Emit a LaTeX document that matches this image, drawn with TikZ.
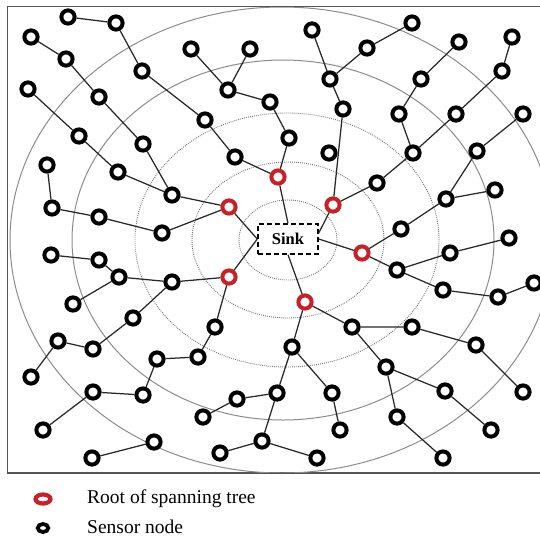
\documentclass[tikz,border=0pt]{standalone}
\usepackage{fontspec}
\setmainfont{Liberation Serif}
\usetikzlibrary{shapes.geometric}
\definecolor{rootred}{RGB}{200,32,38}
\definecolor{linkgray}{RGB}{40,40,40}
\definecolor{ringgray}{RGB}{140,140,140}
\definecolor{dotgray}{RGB}{120,120,120}
\definecolor{framegray}{RGB}{85,85,85}
\begin{document}
\begin{tikzpicture}[x=1pt,y=-1pt,
  sensor/.style={circle,draw=black,fill=white,line width=4pt,minimum size=13.2pt,inner sep=0pt},
  root/.style={sensor,draw=rootred},
  link/.style={draw=linkgray,line width=1.25pt},
  solidring/.style={draw=ringgray,line width=1pt},
  dotring/.style={draw=dotgray,line width=0.9pt,dash pattern=on 0.9pt off 1.1pt},
  sinkbox/.style={draw=black,fill=white,line width=1.5pt,dash pattern=on 5pt off 3pt,
    minimum width=60pt,minimum height=30pt,inner sep=0pt,
    font=\bfseries\fontsize{16.5}{18}\selectfont},
  legtext/.style={anchor=base west,inner sep=0pt,font=\fontsize{19.5}{22}\selectfont}]
\useasboundingbox (0,0) rectangle (540,539);
\fill[white] (0,0) rectangle (540,539);

% field border
\draw[framegray,line width=1.5pt] (7.5,6.5) rectangle (600,473);

% hop rings around the sink
\begin{scope}
  \clip (8,7) rectangle (600,472.5);
  \draw[dotring] (288,240) ellipse [x radius=49pt, y radius=40pt];
  \draw[dotring] (288,240) ellipse [x radius=96pt, y radius=78pt];
  \draw[dotring] (287,240) ellipse [x radius=152pt, y radius=127pt];
  \draw[solidring] (283,240) ellipse [x radius=211pt, y radius=180pt];
  \draw[solidring] (282,240) ellipse [x radius=272pt, y radius=233pt];
\end{scope}

% sink
\node[sinkbox] (sink) at (288,239) {Sink};

% roots of the spanning trees
\node[root] (rA) at (278,177) {};
\node[root] (rB) at (229,207) {};
\node[root] (rC) at (333,205) {};
\node[root] (rD) at (362,253) {};
\node[root] (rE) at (229,277) {};
\node[root] (rF) at (305,302) {};

% sensor nodes
\node[sensor] (n1) at (68,17) {};
\node[sensor] (n2) at (116,23) {};
\node[sensor] (n3) at (31,37) {};
\node[sensor] (n4) at (66,59) {};
\node[sensor] (n5) at (142,71) {};
\node[sensor] (n6) at (28,89) {};
\node[sensor] (n7) at (99,97) {};
\node[sensor] (n8) at (79,136) {};
\node[sensor] (n9) at (143,144) {};
\node[sensor] (n10) at (47,165) {};
\node[sensor] (n11) at (118,172) {};
\node[sensor] (n12) at (191,49) {};
\node[sensor] (n13) at (250,49) {};
\node[sensor] (n14) at (228,90) {};
\node[sensor] (n15) at (270,102) {};
\node[sensor] (n16) at (205,120) {};
\node[sensor] (n17) at (235,157) {};
\node[sensor] (n18) at (289,138) {};
\node[sensor] (n19) at (312,30) {};
\node[sensor] (n20) at (330,79) {};
\node[sensor] (n21) at (343,109) {};
\node[sensor] (n22) at (329,153) {};
\node[sensor] (n23) at (367,48) {};
\node[sensor] (n24) at (412,23) {};
\node[sensor] (n25) at (459,42) {};
\node[sensor] (n26) at (512,37) {};
\node[sensor] (n27) at (421,79) {};
\node[sensor] (n28) at (502,71) {};
\node[sensor] (n29) at (399,114) {};
\node[sensor] (n30) at (456,114) {};
\node[sensor] (n31) at (523,114) {};
\node[sensor] (n32) at (413,153) {};
\node[sensor] (n33) at (477,151) {};
\node[sensor] (n34) at (377,183) {};
\node[sensor] (n35) at (446,199) {};
\node[sensor] (n36) at (495,190) {};
\node[sensor] (n37) at (401,229) {};
\node[sensor] (n38) at (450,253) {};
\node[sensor] (n39) at (509,238) {};
\node[sensor] (n40) at (397,270) {};
\node[sensor] (n41) at (443,290) {};
\node[sensor] (n42) at (498,297) {};
\node[sensor] (n43) at (534,283) {};
\node[sensor] (n44) at (52,208) {};
\node[sensor] (n45) at (99,217) {};
\node[sensor] (n46) at (162,233) {};
\node[sensor] (n47) at (172,195) {};
\node[sensor] (n48) at (51,255) {};
\node[sensor] (n49) at (99,260) {};
\node[sensor] (n50) at (119,277) {};
\node[sensor] (n51) at (172,282) {};
\node[sensor] (n52) at (73,304) {};
\node[sensor] (n53) at (133,318) {};
\node[sensor] (n54) at (58,341) {};
\node[sensor] (n55) at (93,349) {};
\node[sensor] (n56) at (31,377) {};
\node[sensor] (n57) at (157,359) {};
\node[sensor] (n58) at (93,392) {};
\node[sensor] (n59) at (143,395) {};
\node[sensor] (n60) at (43,430) {};
\node[sensor] (n61) at (154,442) {};
\node[sensor] (n62) at (92,458) {};
\node[sensor] (n63) at (215,327) {};
\node[sensor] (n64) at (198,357) {};
\node[sensor] (n65) at (292,347) {};
\node[sensor] (n66) at (352,327) {};
\node[sensor] (n67) at (277,393) {};
\node[sensor] (n68) at (332,393) {};
\node[sensor] (n69) at (237,399) {};
\node[sensor] (n70) at (203,417) {};
\node[sensor] (n71) at (340,430) {};
\node[sensor] (n72) at (262,441) {};
\node[sensor] (n73) at (220,453) {};
\node[sensor] (n74) at (317,458) {};
\node[sensor] (n75) at (412,327) {};
\node[sensor] (n76) at (476,345) {};
\node[sensor] (n77) at (523,392) {};
\node[sensor] (n78) at (386,367) {};
\node[sensor] (n79) at (445,391) {};
\node[sensor] (n80) at (491,430) {};
\node[sensor] (n81) at (397,417) {};
\node[sensor] (n82) at (443,458) {};

% roots to the sink
\path[link] (rA) -- (sink.north)
  (rB) -- (sink.west)
  (rE) -- (sink.west)
  (rC) -- ([yshift=6pt]sink.east)
  (rD) -- (sink.east)
  (rF) -- (sink.south);

% tree links
\path[link]
  (n1) -- (n2) (n2) -- (n5) (n5) -- (n16) (n16) -- (n17) (n17) -- (rA)
  (n3) -- (n4) (n4) -- (n7) (n7) -- (n9) (n9) -- (n47)
  (n6) -- (n8) (n8) -- (n11) (n11) -- (n47) (n47) -- (rB)
  (n10) -- (n44) (n44) -- (n45) (n45) -- (n46) (n46) -- (rB)
  (n12) -- (n14) (n13) -- (n14) (n14) -- (n15) (n15) -- (n18) (n18) -- (rA)
  (n19) -- (n20) (n20) -- (n23) (n23) -- (n24) (n20) -- (n21) (n21) -- (rC)
  (n25) -- (n27) (n27) -- (n29) (n29) -- (n32)
  (n26) -- (n28) (n28) -- (n30) (n30) -- (n32) (n32) -- (n34) (n34) -- (rC)
  (n31) -- (n33) (n33) -- (n35) (n35) -- (n36) (n35) -- (n37) (n37) -- (rD)
  (rD) -- (n40) (n40) -- (n38) (n38) -- (n39)
  (n40) -- (n41) (n41) -- (n42) (n42) -- (n43)
  (n48) -- (n49) (n49) -- (n50) (n50) -- (n51) (n50) -- (n52) (n51) -- (rE)
  (n51) -- (n53) (n53) -- (n55) (n55) -- (n54) (n54) -- (n56)
  (n57) -- (n59) (n59) -- (n58) (n58) -- (n60)
  (n57) -- (n64) (n64) -- (n63) (n63) -- (rE)
  (n61) -- (n62)
  (rF) -- (n65) (n65) -- (n67) (n65) -- (n68) (n68) -- (n71)
  (n67) -- (n69) (n69) -- (n70) (n67) -- (n72) (n72) -- (n73) (n72) -- (n74)
  (rF) -- (n66) (n66) -- (n75) (n75) -- (n76) (n76) -- (n77)
  (n66) -- (n78) (n78) -- (n79) (n79) -- (n80) (n78) -- (n81) (n81) -- (n82);

% legend
\node[ellipse,draw=rootred,line width=4.2pt,minimum width=15pt,minimum height=9pt,inner sep=0pt]
  (legroot) at (43,499) {};
\node[legtext] (legroottext) at (87,503.5) {Root of spanning tree};
\node[ellipse,draw=black,line width=3.8pt,minimum width=10.5pt,minimum height=8pt,inner sep=0pt]
  (legsensor) at (43,528) {};
\node[legtext] (legsensortext) at (87,533) {Sensor node};
\end{tikzpicture}
\end{document}
